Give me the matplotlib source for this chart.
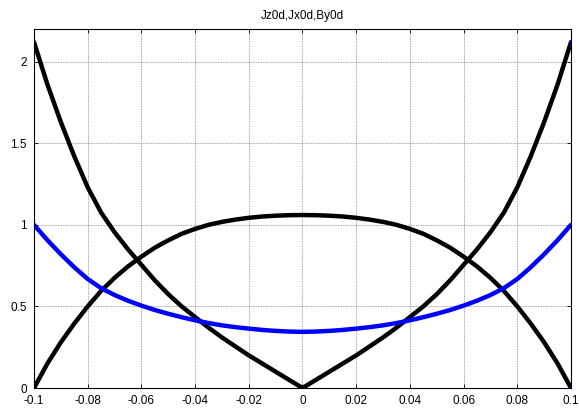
import matplotlib
matplotlib.use('Agg')
import matplotlib.pyplot as plt

# sample positions (read every 0.005)
x_vals = [-0.1, -0.095, -0.09, -0.085, -0.08, -0.075, -0.07, -0.065, -0.06, -0.055,
          -0.05, -0.045, -0.04, -0.035, -0.03, -0.025, -0.02, -0.015, -0.01, -0.005,
          0.0,
          0.005, 0.01, 0.015, 0.02, 0.025, 0.03, 0.035, 0.04, 0.045, 0.05,
          0.055, 0.06, 0.065, 0.07, 0.075, 0.08, 0.085, 0.09, 0.095, 0.1]

# Jz0d - V shaped curve
jz_vals = [2.12, 1.86, 1.63, 1.42, 1.23, 1.075, 0.955, 0.85, 0.755, 0.66,
           0.575, 0.50, 0.435, 0.37, 0.31, 0.255, 0.20, 0.15, 0.10, 0.05,
           0.0,
           0.05, 0.10, 0.15, 0.20, 0.255, 0.31, 0.37, 0.435, 0.50, 0.575,
           0.66, 0.755, 0.85, 0.955, 1.075, 1.23, 1.42, 1.63, 1.86, 2.12]

# Jx0d - dome
jx_vals = [0.0, 0.15, 0.28, 0.395, 0.50, 0.595, 0.675, 0.745, 0.805, 0.86,
           0.905, 0.945, 0.975, 1.0, 1.018, 1.032, 1.043, 1.051, 1.056, 1.059,
           1.06,
           1.059, 1.056, 1.051, 1.043, 1.032, 1.018, 1.0, 0.975, 0.945, 0.905,
           0.86, 0.805, 0.745, 0.675, 0.595, 0.50, 0.395, 0.28, 0.15, 0.0]

# By0d - blue U
by_vals = [1.0, 0.906, 0.82, 0.74, 0.668, 0.612, 0.57, 0.535, 0.505, 0.478,
           0.455, 0.434, 0.415, 0.398, 0.384, 0.373, 0.364, 0.356, 0.35, 0.346,
           0.344,
           0.346, 0.35, 0.356, 0.364, 0.373, 0.384, 0.398, 0.415, 0.434, 0.455,
           0.478, 0.505, 0.535, 0.57, 0.612, 0.668, 0.74, 0.82, 0.906, 1.0]

x_ticks = [-0.1, -0.08, -0.06, -0.04, -0.02, 0, 0.02, 0.04, 0.06, 0.08, 0.1]
x_labels = ['-0.1', '-0.08', '-0.06', '-0.04', '-0.02', '0', '0.02', '0.04', '0.06', '0.08', '0.1']
y_ticks = [0, 0.5, 1, 1.5, 2]
y_labels = ['0', '0.5', '1', '1.5', '2']

plt.rcParams['font.family'] = ['Liberation Sans', 'DejaVu Sans']

fig = plt.figure(figsize=(5.79, 4.09), dpi=100)
ax = fig.add_axes([0.0587, 0.0513, 0.9275, 0.8778])

ax.plot(x_vals, jz_vals, color='black', linewidth=3.2, solid_capstyle='round', solid_joinstyle='round')
ax.plot(x_vals, jx_vals, color='black', linewidth=3.2, solid_capstyle='round', solid_joinstyle='round')
ax.plot(x_vals, by_vals, color='#0000ff', linewidth=3.2, solid_capstyle='round', solid_joinstyle='round')
# small end markers seen at the right edge
ax.plot([0.1, 0.1], [0.0, 2.12], linestyle='none', marker='o', markersize=2.5, color='#0000ff')

ax.set_xlim(-0.1, 0.1)
ax.set_ylim(0, 2.2)
ax.set_xticks(x_ticks)
ax.set_xticklabels(x_labels)
ax.set_yticks(y_ticks)
ax.set_yticklabels(y_labels)
ax.tick_params(direction='in', length=3, width=0.6, labelsize=8.5, top=True, right=True)
ax.tick_params(axis='x', pad=5)
ax.tick_params(axis='y', pad=5)
ax.grid(True, color='#888888', linestyle=(0, (1, 1)), linewidth=0.6)
for s in ax.spines.values():
    s.set_linewidth(0.8)
ax.set_axisbelow(True)

ax.set_title('Jz0d,Jx0d,By0d', fontsize=8.5, pad=7)

fig.savefig('out.png', dpi=100)
